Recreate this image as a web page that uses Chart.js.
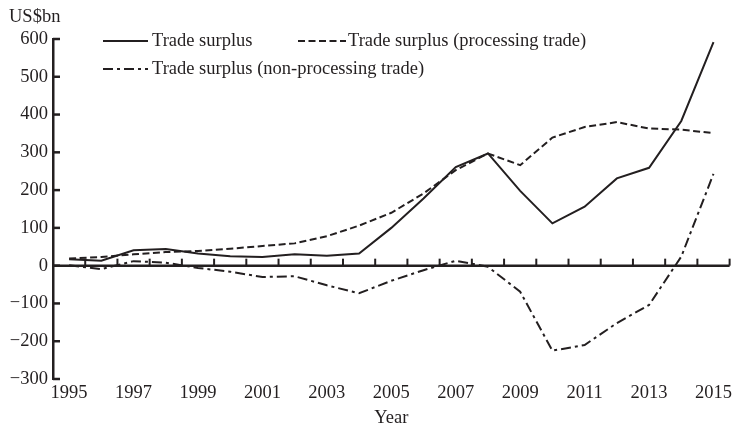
<!DOCTYPE html>
<html>
<head>
<meta charset="utf-8">
<script src="https://cdn.jsdelivr.net/npm/chart.js@4/dist/chart.umd.min.js"></script>
<style>
  html, body { margin: 0; padding: 0; background: #fff; }
  #wrap { width: 735px; height: 430px; position: relative; }
</style>
</head>
<body>
<div id="wrap"><canvas id="chart"></canvas></div>
<script>
const years = ["1995", "1996", "1997", "1998", "1999", "2000", "2001", "2002", "2003", "2004", "2005",
  "2006", "2007", "2008", "2009", "2010", "2011", "2012", "2013", "2014", "2015"];
const tradeSurplus = [17, 13, 41, 44, 32, 25, 23, 30, 26, 32, 100, 178, 261, 297, 198, 112, 156, 231, 259, 383, 592];
const processingSurplus = [19, 23, 30, 36, 39, 45, 52, 59, 78, 106, 140, 191, 253, 297, 266, 339, 367, 380, 363, 360, 351];
const nonProcessingSurplus = [1, -9, 12, 8, -6, -16, -30, -28, -52, -73, -40, -12, 13, -3, -69, -225, -210, -152, -104, 24, 243];
const yTicks = [-300, -200, -100, 0, 100, 200, 300, 400, 500, 600];

const ink = "#231f20";
const serif = "'Liberation Serif', 'Times New Roman', serif";
const fontSize = 18.5;

// axis ticks point inward, x ticks sit on the zero line, legend drawn inside the plot
const extras = {
  id: "extras",
  afterDraw(chart) {
    const ctx = chart.ctx;
    const x = chart.scales.x;
    const y = chart.scales.y;
    const area = chart.chartArea;
    ctx.save();
    ctx.strokeStyle = ink;
    ctx.lineWidth = 2.5;

    // y ticks
    yTicks.forEach(v => {
      const py = y.getPixelForValue(v);
      ctx.beginPath();
      ctx.moveTo(area.left, py);
      ctx.lineTo(area.left + 7, py);
      ctx.stroke();
    });

    // zero line with ticks at category boundaries
    const y0 = y.getPixelForValue(0);
    ctx.beginPath();
    ctx.moveTo(area.left, y0);
    ctx.lineTo(area.right, y0);
    ctx.stroke();
    const half = (x.getPixelForValue(1) - x.getPixelForValue(0)) / 2;
    ctx.lineWidth = 2;
    for (let i = 0; i < years.length; i++) {
      const px = x.getPixelForValue(i) + half;
      ctx.beginPath();
      ctx.moveTo(px, y0);
      ctx.lineTo(px, y0 - 7);
      ctx.stroke();
    }

    // unit label
    ctx.fillStyle = ink;
    ctx.font = fontSize + "px " + serif;
    ctx.textBaseline = "middle";
    ctx.textAlign = "left";
    ctx.fillText("US$bn", 9, 17);

    // legend
    const items = [
      { ds: 0, x1: 103, x2: 148, tx: 152, ty: 41 },
      { ds: 1, x1: 298, x2: 346, tx: 348, ty: 41 },
      { ds: 2, x1: 103, x2: 148, tx: 152, ty: 69 }
    ];
    items.forEach(it => {
      const ds = chart.data.datasets[it.ds];
      ctx.setLineDash(ds.borderDash || []);
      ctx.lineWidth = ds.borderWidth;
      ctx.beginPath();
      ctx.moveTo(it.x1, it.ty);
      ctx.lineTo(it.x2, it.ty);
      ctx.stroke();
      ctx.setLineDash([]);
      ctx.fillText(ds.label, it.tx, it.ty);
    });
    ctx.restore();
  }
};

new Chart(document.getElementById("chart"), {
  type: "line",
  data: {
    labels: years,
    datasets: [
      {
        label: "Trade surplus",
        data: tradeSurplus,
        borderColor: ink,
        borderWidth: 2,
        pointRadius: 0,
        tension: 0
      },
      {
        label: "Trade surplus (processing trade)",
        data: processingSurplus,
        borderColor: ink,
        borderWidth: 2,
        borderDash: [7, 3.5],
        pointRadius: 0,
        tension: 0
      },
      {
        label: "Trade surplus (non-processing trade)",
        data: nonProcessingSurplus,
        borderColor: ink,
        borderWidth: 2,
        borderDash: [10, 4, 3, 4],
        pointRadius: 0,
        tension: 0
      }
    ]
  },
  plugins: [extras],
  options: {
    responsive: true,
    maintainAspectRatio: false,
    animation: false,
    layout: { padding: { top: 39, right: 0, left: 0, bottom: 0 } },
    plugins: {
      legend: { display: false },
      tooltip: { enabled: false }
    },
    scales: {
      x: {
        type: "category",
        offset: true,
        grid: { display: false, drawTicks: false, offset: true },
        border: { display: false },
        ticks: {
          autoSkip: false,
          maxRotation: 0,
          padding: 3,
          color: ink,
          font: { family: serif, size: fontSize },
          callback: (v, i) => (i % 2 === 0 ? years[i] : "")
        },
        title: {
          display: true,
          text: "Year",
          color: ink,
          font: { family: serif, size: fontSize },
          padding: { top: 0, bottom: 1 }
        },
        afterFit: s => { s.height = 51; }
      },
      y: {
        min: -300,
        max: 600,
        grid: { display: false, drawTicks: false },
        border: { display: true, color: ink, width: 2.5 },
        ticks: {
          stepSize: 100,
          padding: 5,
          color: ink,
          font: { family: serif, size: fontSize },
          callback: v => (v < 0 ? "\u2212" + Math.abs(v) : String(v))
        },
        afterFit: s => { s.width = 53; }
      }
    }
  }
});
</script>
</body>
</html>
